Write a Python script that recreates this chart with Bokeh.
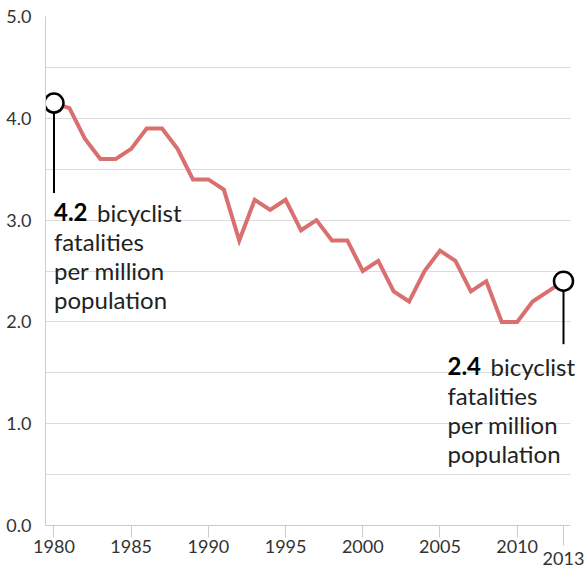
from bokeh.plotting import figure
from bokeh.models import Range1d, FixedTicker, CustomJSTickFormatter
from bokeh.core.properties import value
from bokeh.embed import file_html
from bokeh.resources import INLINE

years = list(range(1980, 2014))
rates = [4.15, 4.1, 3.8, 3.6, 3.6, 3.7, 3.9, 3.9, 3.7, 3.4, 3.4, 3.3, 2.8, 3.2,
         3.1, 3.2, 2.9, 3.0, 2.8, 2.8, 2.5, 2.6, 2.3, 2.2, 2.5, 2.7, 2.6, 2.3,
         2.4, 2.0, 2.0, 2.2, 2.3, 2.4]

x_ticks = [1980, 1985, 1990, 1995, 2000, 2005, 2010, 2013]
x_long_ticks = [2013]
x_tick_labels = {2013: "\n2013"}
y_ticks = [0, 1, 2, 3, 4, 5]
y_minor = [0.5, 1.5, 2.5, 3.5, 4.5]

start_value = "4.2"
end_value = "2.4"
note_first = "bicyclist"
note_lines = ["fatalities", "per million", "population"]

FONT = value("Lato")
LINE_COLOR = "#d9706f"
GRID = "#dcdcdc"
TXT = "#222222"
ANN_SIZE = "24px"
TICK_SIZE = "18px"

X0, X_AXIS_END, X1 = 1979.45, 2013.45, 2014.36

p = figure(width=584, height=573, output_backend="svg", toolbar_location=None,
           x_range=Range1d(X0, X1), y_range=Range1d(0, 5),
           min_border_left=45, min_border_right=0, min_border_top=16,
           min_border_bottom=48)
p.outline_line_color = None
p.background_fill_color = "white"
p.border_fill_color = "white"

# grid and y axis
p.xgrid.grid_line_color = None
p.ygrid.grid_line_color = GRID
p.ygrid.minor_grid_line_color = GRID
p.ygrid.cross_bounds = (X0, X_AXIS_END)
p.yaxis.ticker = FixedTicker(ticks=y_ticks, minor_ticks=y_minor)
p.yaxis.major_tick_line_color = None
p.yaxis.minor_tick_line_color = None
p.yaxis.axis_line_color = "#cccccc"
p.yaxis.major_label_standoff = 8
p.yaxis.formatter = CustomJSTickFormatter(code="return tick.toFixed(1);")
p.yaxis.major_label_text_font = "Lato"
p.yaxis.major_label_text_font_size = TICK_SIZE
p.yaxis.major_label_text_color = "#333333"

# x axis
p.xaxis.bounds = (X0, X_AXIS_END)
p.xaxis.ticker = FixedTicker(ticks=x_ticks, minor_ticks=x_long_ticks)
p.xaxis.major_label_overrides = x_tick_labels
p.xaxis.major_label_text_line_height = 0.55
p.xaxis.axis_line_color = "#cccccc"
p.xaxis.major_tick_line_color = "#cccccc"
p.xaxis.major_tick_in = 0
p.xaxis.major_tick_out = 12
p.xaxis.minor_tick_line_color = "#cccccc"
p.xaxis.minor_tick_in = 0
p.xaxis.minor_tick_out = 20
p.xaxis.major_label_standoff = -11
p.xaxis.major_label_text_font = "Lato"
p.xaxis.major_label_text_font_size = TICK_SIZE
p.xaxis.major_label_text_color = "#333333"

# data line
p.line(years, rates, line_color=LINE_COLOR, line_width=4, line_join="miter")

# callouts
ends = [(years[0], rates[0], start_value, 0, 90, 109),
        (years[-1], rates[-1], end_value, -116, 63, 85)]
for x, y, val, xo, stem, yo in ends:
    p.ray(x=[x], y=[y], length=stem, length_units="screen", angle=-90,
          angle_units="deg", line_color="black", line_width=2)
    p.scatter([x], [y], size=19, marker="circle", fill_color="white",
              line_color="black", line_width=2.5)
    p.text(x=[x], y=[y], text=[val], x_offset=xo, y_offset=yo,
           text_font=FONT, text_font_style="bold", text_font_size=ANN_SIZE,
           text_color="black", text_baseline="alphabetic", text_align="left")
    p.text(x=[x], y=[y], text=[note_first], x_offset=xo + 43, y_offset=yo,
           text_font=FONT, text_font_size=ANN_SIZE, text_color=TXT,
           text_baseline="alphabetic", text_align="left")
    for i, t in enumerate(note_lines):
        p.text(x=[x], y=[y], text=[t], x_offset=xo, y_offset=yo + 29 * (i + 1),
               text_font=FONT, text_font_size=ANN_SIZE, text_color=TXT,
               text_baseline="alphabetic", text_align="left")

open("out.html", "w").write(file_html(p, INLINE))
